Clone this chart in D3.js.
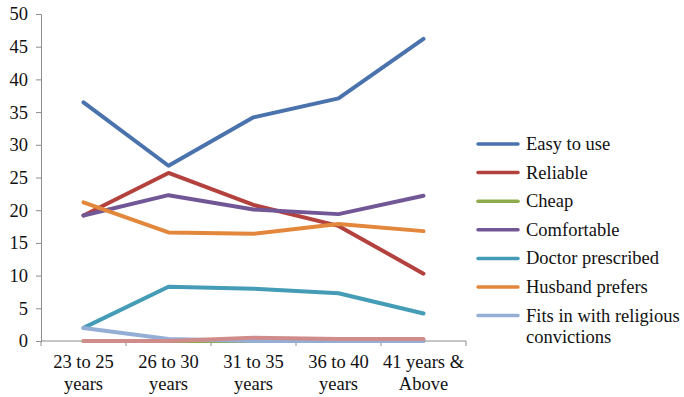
<!DOCTYPE html>
<html>
<head>
<meta charset="utf-8">
<script src="https://cdn.jsdelivr.net/npm/d3@7"></script>
<style>
  html, body { margin: 0; padding: 0; background: #fff; }
  svg { display: block; }
  svg text { font-family: "Liberation Serif", "Times New Roman", Times, serif; }
</style>
</head>
<body>
<svg id="chart" width="684" height="397"></svg>
<script>
// Age groups (two-line labels)
const categories = [
  ["23 to 25", "years"],
  ["26 to 30", "years"],
  ["31 to 35", "years"],
  ["36 to 40", "years"],
  ["41 years &", "Above"]
];

// Percentage of respondents citing each reason, per age group
const easyToUse        = [36.5, 26.8, 34.2, 37.1, 46.2];
const reliable         = [19.2, 25.7, 20.8, 17.6, 10.3];
const cheap            = [0, 0, 0, 0, 0];
const comfortable      = [19.2, 22.3, 20.1, 19.4, 22.2];
const doctorPrescribed = [2.0, 8.3, 8.0, 7.3, 4.2];
const husbandPrefers   = [21.2, 16.6, 16.4, 17.9, 16.8];
const religious        = [2.0, 0.3, 0.0, 0.0, 0.0];
const other            = [0, 0, 0.5, 0.3, 0.3];

const yTicks = [0, 5, 10, 15, 20, 25, 30, 35, 40, 45, 50];

const series = [
  { name: ["Easy to use"], values: easyToUse, color: "#4A72AC", legend: true },
  { name: ["Reliable"], values: reliable, color: "#B3423F", legend: true },
  { name: ["Cheap"], values: cheap, color: "#8CAB4B", legend: true },
  { name: ["Comfortable"], values: comfortable, color: "#725796", legend: true },
  { name: ["Doctor prescribed"], values: doctorPrescribed, color: "#449CB6", legend: true },
  { name: ["Husband prefers"], values: husbandPrefers, color: "#E2873B", legend: true },
  { name: ["Fits in with religious", "convictions"], values: religious, color: "#95AED5", legend: true },
  { name: ["Other"], values: other, color: "#D08C8A", legend: false }
];

const FONT = "'Liberation Serif', 'Times New Roman', Times, serif";

const svg = d3.select("#chart");
const plotLeft = 41, plotRight = 466, plotTop = 14, plotBottom = 341;

const x = d3.scaleBand()
  .domain(d3.range(categories.length))
  .range([plotLeft, plotRight]);

const y = d3.scaleLinear().domain([0, 50]).range([plotBottom, plotTop]);

const axisColor = "#8c8c8c";

// Y axis
const yAxis = svg.append("g")
  .attr("transform", `translate(${plotLeft},0)`)
  .call(d3.axisLeft(y).tickValues(yTicks).tickSize(5).tickPadding(8))
  .attr("font-family", FONT)
  .attr("font-size", 18.5);
yAxis.select(".domain").attr("stroke", axisColor);
yAxis.selectAll(".tick line").attr("stroke", axisColor);
yAxis.selectAll(".tick text").attr("fill", "#111");

// X axis: ticks on category boundaries
const xAxisG = svg.append("g").attr("transform", `translate(0,${plotBottom})`);
xAxisG.append("line")
  .attr("x1", plotLeft).attr("x2", plotRight)
  .attr("y1", 0).attr("y2", 0)
  .attr("stroke", axisColor);
const boundaries = d3.range(categories.length + 1).map(i => plotLeft + i * x.bandwidth());
xAxisG.selectAll("line.tick")
  .data(boundaries)
  .join("line")
  .attr("class", "tick")
  .attr("x1", d => d).attr("x2", d => d)
  .attr("y1", 0).attr("y2", 5)
  .attr("stroke", axisColor);

const labels = xAxisG.selectAll("text.cat")
  .data(categories)
  .join("text")
  .attr("class", "cat")
  .attr("text-anchor", "middle")
  .attr("fill", "#111")
  .attr("font-family", FONT)
  .attr("font-size", 18.5);
labels.each(function(d, i) {
  const t = d3.select(this);
  d.forEach((line, j) => {
    t.append("tspan")
      .attr("x", x(i) + x.bandwidth() / 2)
      .attr("y", 27 + j * 22)
      .text(line);
  });
});

// Lines
const line = d3.line()
  .x((d, i) => x(i) + x.bandwidth() / 2)
  .y(d => y(d));

svg.append("g")
  .selectAll("path")
  .data(series)
  .join("path")
  .attr("d", d => line(d.values))
  .attr("fill", "none")
  .attr("stroke", d => d.color)
  .attr("stroke-width", 4)
  .attr("stroke-linejoin", "round")
  .attr("stroke-linecap", "round");

// Legend
const legend = svg.append("g").attr("transform", "translate(478,144)");
const items = legend.selectAll("g")
  .data(series.filter(s => s.legend))
  .join("g")
  .attr("transform", (d, i) => `translate(0,${i * 28.6})`);
items.append("line")
  .attr("x1", 0).attr("x2", 40)
  .attr("y1", 0).attr("y2", 0)
  .attr("stroke", d => d.color)
  .attr("stroke-width", 3.5)
  .attr("stroke-linecap", "round");
items.append("text")
  .attr("fill", "#111")
  .attr("font-family", FONT)
  .attr("font-size", 18.5)
  .each(function(d) {
    const t = d3.select(this);
    d.name.forEach((ln, j) => {
      t.append("tspan")
        .attr("x", 48)
        .attr("y", 6 + j * 21.5)
        .text(ln);
    });
  });
</script>
</body>
</html>
